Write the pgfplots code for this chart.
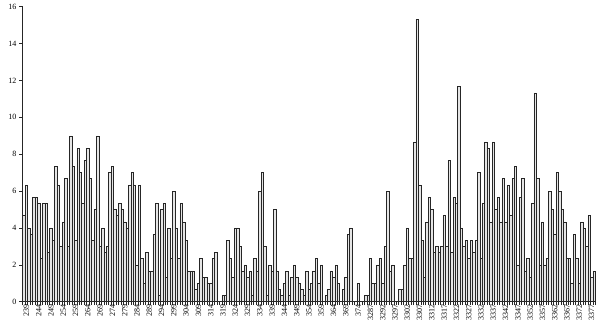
\documentclass[border=0pt]{standalone}
\usepackage{pgfplots}
\pgfplotsset{compat=1.18}
\usepackage{pgfplotstable}
\usepackage{fontspec}
\setmainfont{Liberation Serif}
\pgfplotstableread{
x y
0 4.67
1 6.33
2 4.0
3 3.67
4 5.67
5 5.67
6 5.33
7 2.33
8 5.33
9 5.33
10 2.67
11 4.0
12 3.33
13 7.33
14 6.33
15 3.0
16 4.33
17 6.67
18 3.0
19 9.0
20 7.33
21 3.33
22 8.33
23 7.0
24 5.33
25 7.67
26 8.33
27 6.67
28 3.33
29 5.0
30 9.0
31 3.0
32 4.0
33 2.67
34 3.0
35 7.0
36 7.33
37 5.0
38 4.67
39 5.33
40 5.0
41 4.33
42 4.0
43 6.33
44 7.0
45 6.33
46 2.0
47 6.33
48 2.33
49 1.0
50 2.67
51 1.67
52 1.67
53 3.67
54 5.33
55 0.33
56 5.0
57 5.33
58 1.33
59 4.0
60 2.33
61 6.0
62 4.0
63 2.33
64 5.33
65 4.33
66 3.33
67 1.67
68 1.67
69 1.67
70 0.67
71 1.0
72 2.33
73 1.33
74 1.33
75 1.0
76 1.0
77 2.33
78 2.67
79 0
80 0
81 0.33
82 0.33
83 3.33
84 2.33
85 1.33
86 4.0
87 4.0
88 3.0
89 1.67
90 2.0
91 1.33
92 1.67
93 0.33
94 2.33
95 1.67
96 6.0
97 7.0
98 3.0
99 0.33
100 2.0
101 1.67
102 5.0
103 1.67
104 0.67
105 0.33
106 1.0
107 1.67
108 0.33
109 1.33
110 2.0
111 1.33
112 1.0
113 0.67
114 0.33
115 1.67
116 0.67
117 1.0
118 1.67
119 2.33
120 1.0
121 2.0
122 0
123 0.33
124 0.67
125 1.67
126 1.33
127 2.0
128 1.0
129 0
130 0.67
131 1.33
132 3.67
133 4.0
134 0
135 0
136 1.0
137 0
138 0
139 0.33
140 0.33
141 2.33
142 1.0
143 1.0
144 2.0
145 2.33
146 1.0
147 3.0
148 6.0
149 1.67
150 2.0
151 0
152 0
153 0.67
154 0.67
155 2.0
156 4.0
157 2.33
158 2.33
159 8.67
160 15.33
161 6.33
162 3.33
163 1.33
164 4.33
165 5.67
166 5.0
167 2.67
168 3.0
169 2.67
170 3.0
171 4.67
172 3.0
173 7.67
174 2.67
175 5.67
176 5.33
177 11.67
178 4.0
179 3.0
180 3.33
181 2.33
182 3.33
183 2.67
184 3.33
185 7.0
186 2.33
187 5.33
188 8.67
189 8.33
190 4.33
191 8.67
192 5.0
193 5.67
194 4.33
195 6.67
196 4.33
197 6.33
198 4.67
199 6.67
200 7.33
201 2.0
202 5.67
203 6.67
204 1.67
205 2.33
206 1.33
207 5.33
208 11.33
209 6.67
210 2.0
211 4.33
212 2.0
213 2.33
214 6.0
215 5.0
216 3.67
217 7.0
218 6.0
219 5.0
220 4.33
221 2.33
222 2.33
223 1.0
224 3.67
225 2.33
226 1.0
227 4.33
228 4.0
229 3.0
230 4.67
231 1.33
232 1.67
}\datatable
\begin{document}
\begin{tikzpicture}
\useasboundingbox (0pt,0pt) rectangle (607pt,329pt);
\begin{axis}[
  at={(22.7pt,27.3pt)}, anchor=south west,
  scale only axis, width=572.6pt, height=295pt,
  xmin=-0.5, xmax=232.5, ymin=0, ymax=16,
  axis lines=left, axis line style={-, line width=0.7pt, black!85},
  every outer x axis line/.append style={-},
  every outer y axis line/.append style={-},
  ytick={0,2,...,16},
  tick align=outside,
  major tick length=3.5pt,
  xtick={-0.5,0.5,...,232.5},
  xticklabels={},
  extra x ticks={1,6,...,231},
  extra x tick labels={239,244,249,254,259,264,269,274,279,284,289,294,299,304,309,314,319,324,329,334,339,344,349,354,359,364,369,374,3287,3292,3297,3302,3307,3312,3317,3322,3327,3332,3337,3342,3347,3352,3357,3362,3367,3372,3377},
  extra x tick style={major tick length=0pt, xticklabel style={yshift=-2pt, rotate=90, anchor=east, inner sep=0.5pt}},
  tick style={black!85, line width=0.5pt},
  /pgf/number format/assume math mode=true,
  tick label style={font=\fontsize{8}{9}\selectfont},
  yticklabel style={inner sep=1pt, xshift=-1.5pt},
  clip=false,
]
\addplot[ybar, bar width=1, bar shift=0pt, fill=black!10, draw=black!85, line width=0.5pt] table[x=x, y=y] {\datatable};
\end{axis}
\end{tikzpicture}
\end{document}
